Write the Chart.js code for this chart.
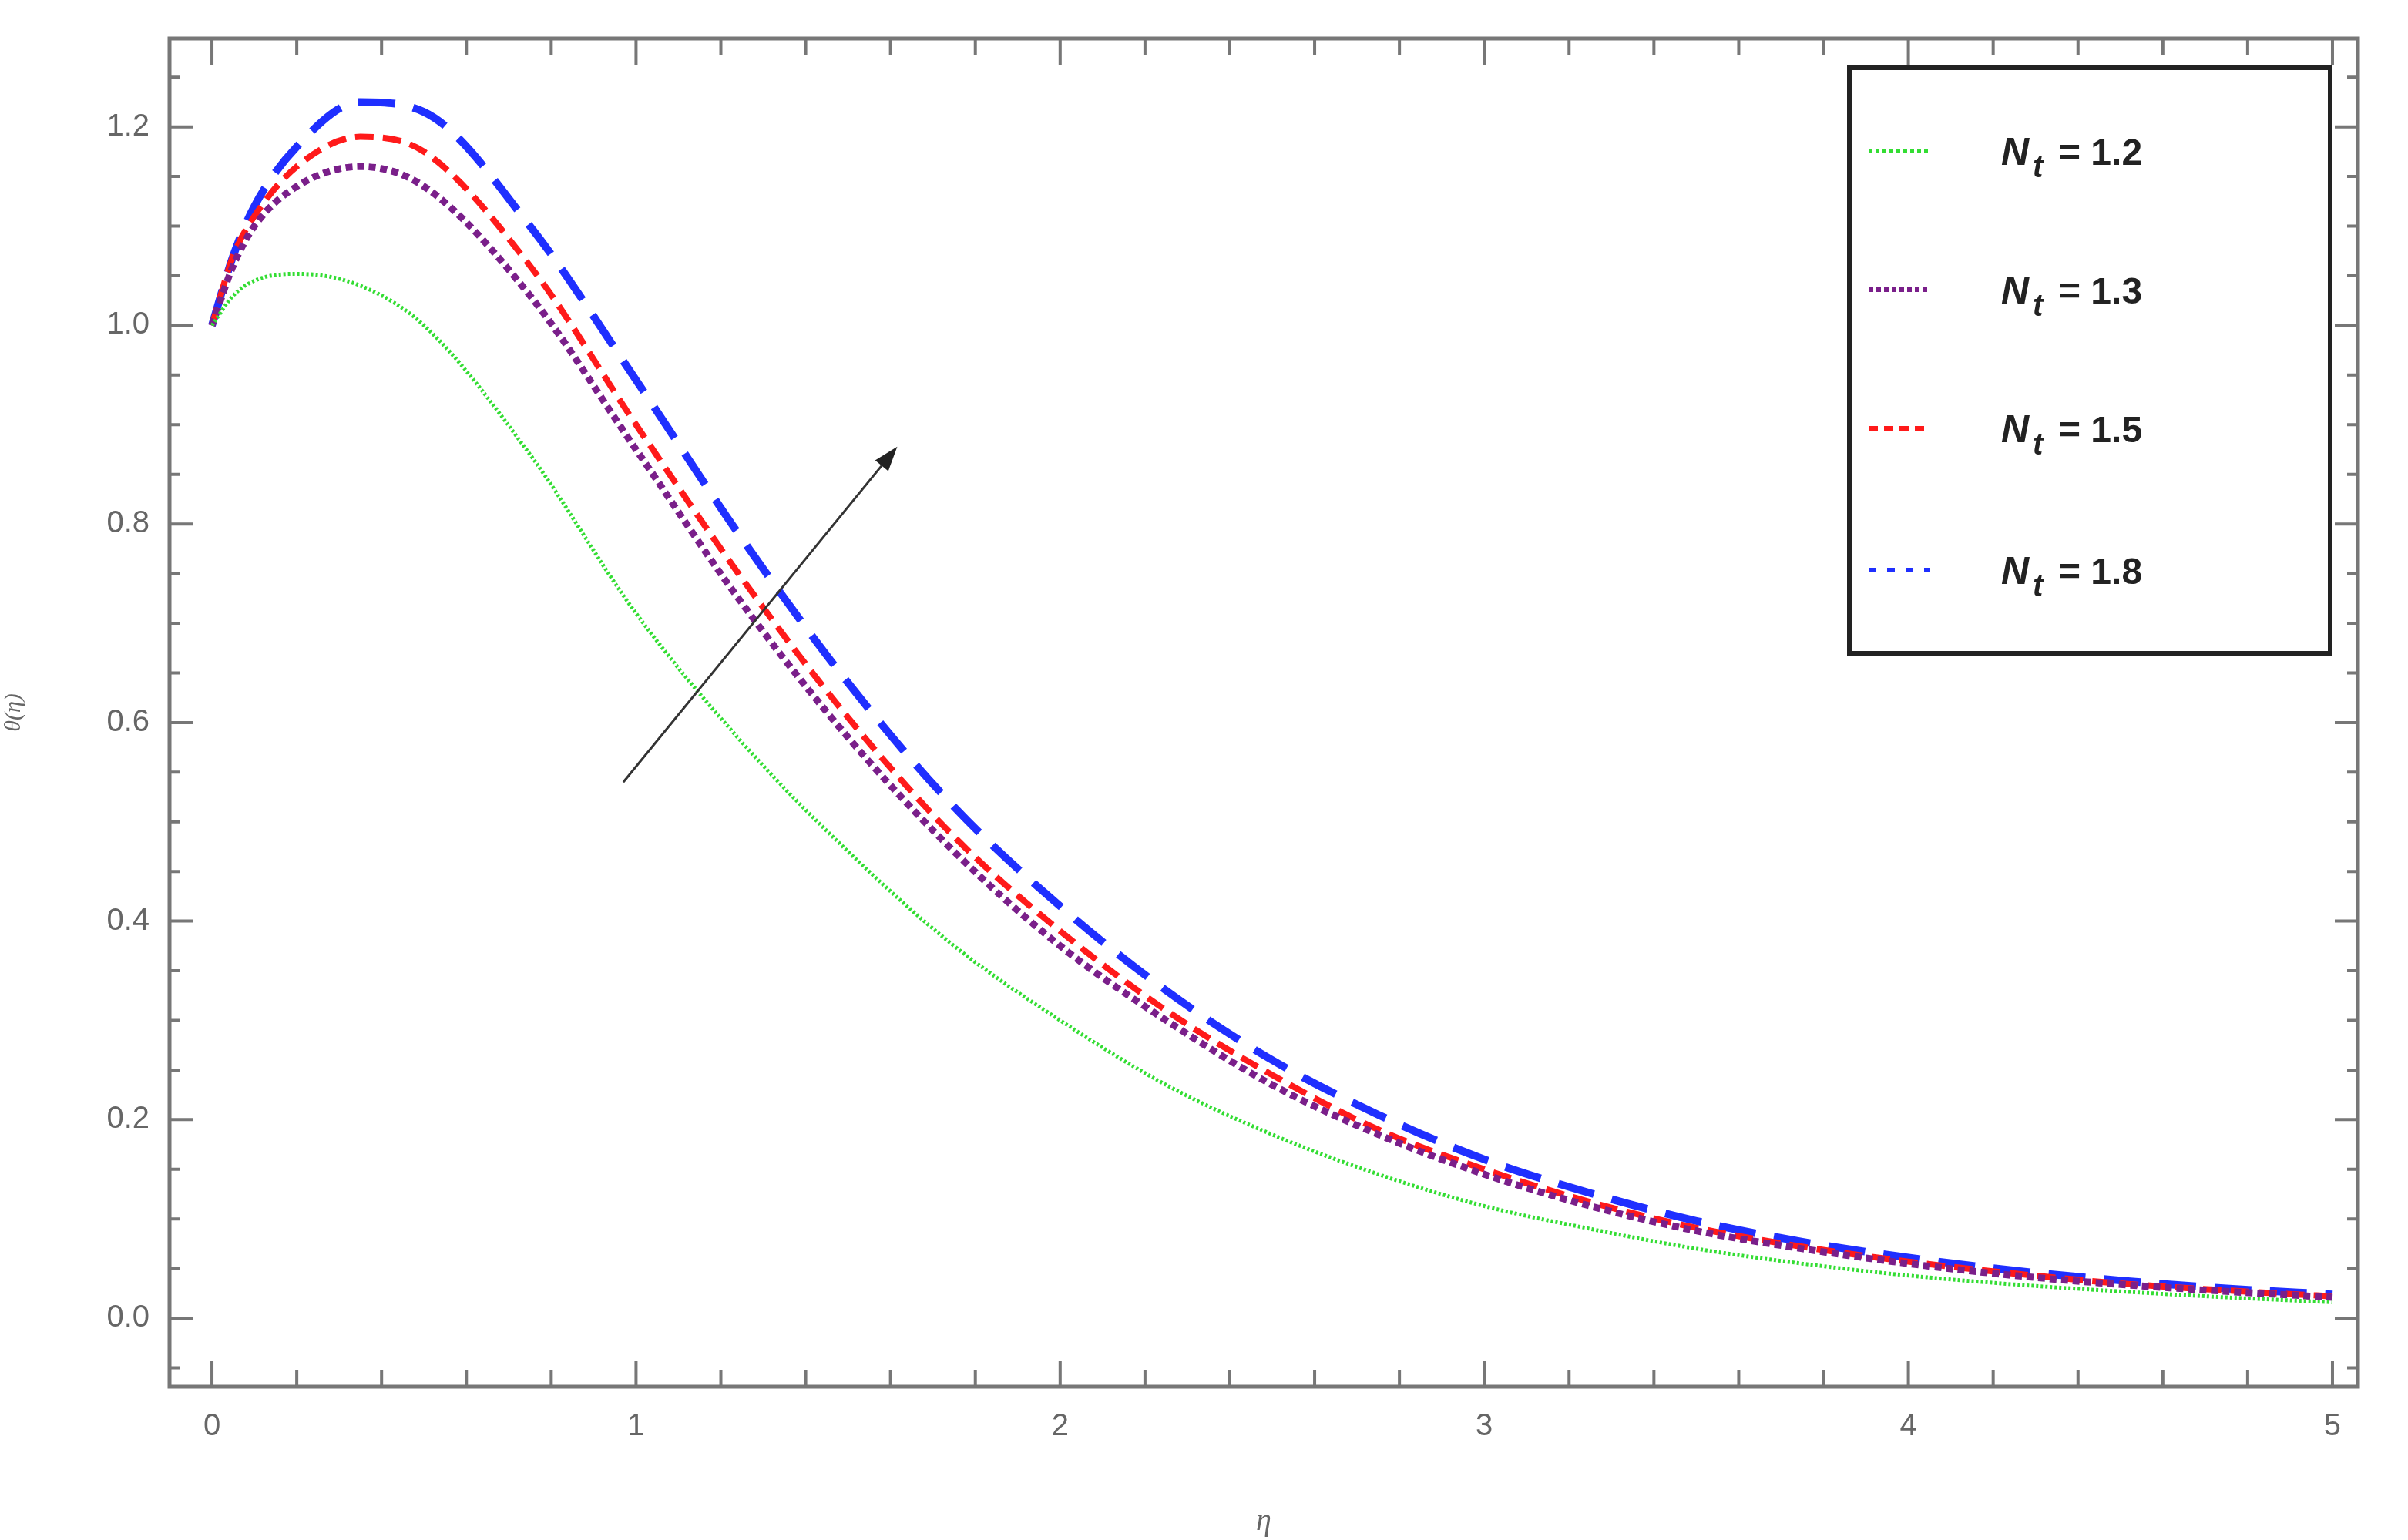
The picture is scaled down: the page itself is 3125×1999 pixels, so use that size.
<!DOCTYPE html>
<html><head><meta charset="utf-8">
<script src="https://cdn.jsdelivr.net/npm/chart.js@4"></script>
<style>html,body{margin:0;padding:0;background:#fff}#w{width:3125px;height:1999px}</style>
</head><body><div id="w"><canvas id="c"></canvas></div>
<script>
const etaValues = [0,0.05,0.1,0.2,0.35,0.5,0.75,1,1.25,1.5,1.75,2,2.25,2.5,2.75,3,3.25,3.5,3.75,4,4.25,4.5,4.75,5];
const nt12 = [1.0,1.03,1.045,1.052,1.04,1.0,0.87,0.71,0.58,0.47,0.375,0.3,0.235,0.185,0.145,0.113,0.09,0.07,0.055,0.043,0.034,0.027,0.021,0.016];
const nt13 = [1.0,1.06,1.1,1.14,1.16,1.14,1.03,0.875,0.72,0.585,0.47,0.375,0.3,0.235,0.185,0.145,0.113,0.088,0.07,0.055,0.043,0.034,0.027,0.021];
const nt15 = [1.0,1.07,1.11,1.16,1.19,1.175,1.06,0.9,0.745,0.605,0.485,0.39,0.31,0.245,0.19,0.15,0.117,0.091,0.072,0.057,0.045,0.035,0.028,0.022];
const nt18 = [1.0,1.07,1.12,1.18,1.225,1.215,1.1,0.945,0.785,0.64,0.515,0.415,0.33,0.26,0.205,0.16,0.126,0.098,0.077,0.061,0.048,0.038,0.03,0.024];
const seriesLabels = ['1.2','1.3','1.5','1.8'];
const xTicks = [0,1,2,3,4,5];
const yTicks = [0,0.2,0.4,0.6,0.8,1.0,1.2];
const arrowPts = [[0.97,0.54],[1.616,0.878]];

const colors = ['#33dd33','#7a1f8a','#ff1a1a','#1f2fff'];
const widths = [5,9,8,10];
const dashes = [[3,3],[9,6],[24,12],[48,24]];
const legDash = [[5,4],[6,4],[12,8],[10,14]];
const allSeries = [nt12,nt13,nt15,nt18];

const datasets = allSeries.map((s,i)=>({
  label: seriesLabels[i],
  data: etaValues.map((x,j)=>({x, y:s[j]})),
  borderColor: colors[i], borderWidth: widths[i], borderDash: dashes[i],
  pointRadius: 0, cubicInterpolationMode: 'monotone', fill:false
}));

const framePlugin = {
  id:'frame',
  afterDraw(chart){
    const ctx = chart.ctx, a = chart.chartArea, xs = chart.scales.x, ys = chart.scales.y;
    ctx.save();
    ctx.strokeStyle = '#777'; ctx.lineWidth = 5; ctx.setLineDash([]);
    ctx.strokeRect(a.left, a.top, a.right-a.left, a.bottom-a.top);
    ctx.lineWidth = 4;
    for (let v=0; v<=5.0001; v+=0.2){
      const px = xs.getPixelForValue(v); const major = Math.abs(v-Math.round(v))<1e-6;
      const L = major?34:22;
      ctx.beginPath(); ctx.moveTo(px,a.bottom); ctx.lineTo(px,a.bottom-L);
      ctx.moveTo(px,a.top); ctx.lineTo(px,a.top+L); ctx.stroke();
    }
    for (let k=-1; k<=26; k++){
      const v = k*0.05; if (v<ys.min||v>ys.max) continue;
      const py = ys.getPixelForValue(v); const major = k%4===0;
      const L = major?30:14;
      ctx.beginPath(); ctx.moveTo(a.left,py); ctx.lineTo(a.left+L,py);
      ctx.moveTo(a.right,py); ctx.lineTo(a.right-L,py); ctx.stroke();
    }
    const x1 = xs.getPixelForValue(arrowPts[0][0]), y1 = ys.getPixelForValue(arrowPts[0][1]);
    const x2 = xs.getPixelForValue(arrowPts[1][0]), y2 = ys.getPixelForValue(arrowPts[1][1]);
    const ang = Math.atan2(y2-y1,x2-x1);
    ctx.strokeStyle='#333'; ctx.fillStyle='#222'; ctx.lineWidth=3;
    ctx.beginPath(); ctx.moveTo(x1,y1); ctx.lineTo(x2-20*Math.cos(ang),y2-20*Math.sin(ang)); ctx.stroke();
    ctx.beginPath(); ctx.moveTo(x2,y2);
    ctx.lineTo(x2-32*Math.cos(ang)+11*Math.sin(ang), y2-32*Math.sin(ang)-11*Math.cos(ang));
    ctx.lineTo(x2-32*Math.cos(ang)-11*Math.sin(ang), y2-32*Math.sin(ang)+11*Math.cos(ang));
    ctx.closePath(); ctx.fill();
    ctx.fillStyle='#fff'; ctx.fillRect(2400,88,624,760);
    ctx.strokeStyle='#222'; ctx.lineWidth=6; ctx.strokeRect(2400,88,624,760);
    const rows=[196,376,556,740];
    rows.forEach((ry,i)=>{
      ctx.strokeStyle=colors[i]; ctx.lineWidth=6; ctx.setLineDash(legDash[i]);
      ctx.beginPath(); ctx.moveTo(2425,ry); ctx.lineTo(2505,ry); ctx.stroke(); ctx.setLineDash([]);
      ctx.fillStyle='#222'; ctx.textBaseline='alphabetic';
      ctx.font='italic bold 50px "Liberation Sans", Arial, sans-serif';
      ctx.fillText('N',2597,ry+18);
      ctx.font='italic bold 40px "Liberation Sans", Arial, sans-serif';
      ctx.fillText('t',2638,ry+34);
      ctx.font='bold 48px "Liberation Sans", Arial, sans-serif';
      ctx.fillText('= '+seriesLabels[i],2672,ry+18);
    });
    ctx.restore();
  }
};

new Chart(document.getElementById('c'),{
  type:'line',
  data:{datasets},
  options:{
    responsive:true, maintainAspectRatio:false, animation:false,
    layout:{padding:{top:0,right:65,left:0,bottom:0}},
    plugins:{legend:{display:false},tooltip:{enabled:false}},
    scales:{
      x:{type:'linear',min:-0.1,max:5.06,
        afterBuildTicks(s){s.ticks=xTicks.map(v=>({value:v}));},
        afterFit(s){s.height=199;},
        grid:{display:false,drawTicks:false}, border:{display:false},
        ticks:{color:'#666',font:{size:40,family:'"Liberation Sans", Arial'},padding:28,callback:v=>String(v)},
        title:{display:true,text:'η',color:'#666',font:{size:40,style:'italic',family:'"Liberation Serif", serif'},padding:{top:30,bottom:0}}
      },
      y:{type:'linear',min:-0.069,max:1.289,
        afterBuildTicks(s){s.ticks=yTicks.map(v=>({value:v}));},
        afterFit(s){s.width=220;},
        grid:{display:false,drawTicks:false}, border:{display:false},
        ticks:{color:'#666',font:{size:40,family:'"Liberation Sans", Arial'},padding:26,callback:v=>v.toFixed(1)},
        title:{display:true,text:'θ(η)',color:'#666',font:{size:30,style:'italic',family:'"Liberation Serif", serif'},padding:{top:0,bottom:8}}
      }
    }
  },
  plugins:[framePlugin]
});
</script></body></html>
